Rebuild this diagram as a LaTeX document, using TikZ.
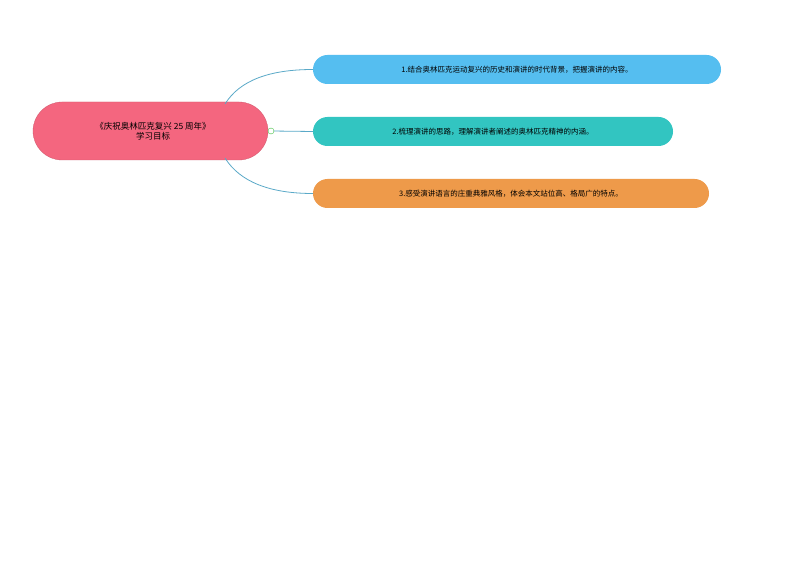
\documentclass[tikz,border=0pt]{standalone}
\usepackage{fontspec}
\setmainfont{Noto Sans CJK SC}
\definecolor{rootc}{HTML}{F4667F}
\definecolor{bA}{HTML}{55BEF0}
\definecolor{bB}{HTML}{32C5C1}
\definecolor{bC}{HTML}{EE9A4A}
\definecolor{linec}{HTML}{5AA9C8}
\begin{document}
\begin{tikzpicture}[x=1pt,y=-1pt,
  branch/.style={rounded corners=14.5pt,minimum height=29pt,inner sep=0pt,font=\fontsize{7.5}{9}\selectfont,text=black},
  conn/.style={draw=linec,line width=0.8pt}]
\useasboundingbox (0,0) rectangle (794,561);
\fill[white] (0,0) rectangle (794,561);
\fill[rootc,draw=rootc!85!black,line width=0.3pt,rounded corners=29pt] (33,102) rectangle (268,160);
\node[font=\fontsize{8.5}{10}\selectfont,align=center] (root) at (153,131) {《庆祝奥林匹克复兴 25 周年》\\学习目标};
\coordinate (rt) at (225,104);
\coordinate (rb) at (225,158);
\node[circle,draw=green!50!gray,fill=white,inner sep=0pt,minimum size=6pt] (knob) at (271,131) {};
\fill[bA,rounded corners=14.5pt] (313,55) rectangle (721,84);
\node[font=\fontsize{7.5}{9}\selectfont] (b1) at (517,69.5) {1.结合奥林匹克运动复兴的历史和演讲的时代背景，把握演讲的内容。};
\fill[bB,rounded corners=14.5pt] (313,117) rectangle (673,146);
\node[font=\fontsize{7.5}{9}\selectfont] (b2) at (493,131.5) {2.梳理演讲的思路，理解演讲者阐述的奥林匹克精神的内涵。};
\fill[bC,rounded corners=14.5pt] (313,179) rectangle (709,208);
\node[font=\fontsize{7.5}{9}\selectfont] (b3) at (511,193.5) {3.感受演讲语言的庄重典雅风格，体会本文站位高、格局广的特点。};
\coordinate (e1) at (313,69.5);
\coordinate (e2) at (313,131.5);
\coordinate (e3) at (313,193.5);
\draw[conn] (rt) .. controls (240,80) and (270,69.5) .. (e1);
\draw[conn] (knob) -- (e2);
\draw[conn] (rb) .. controls (240,182) and (270,193.5) .. (e3);
\end{tikzpicture}
\end{document}
